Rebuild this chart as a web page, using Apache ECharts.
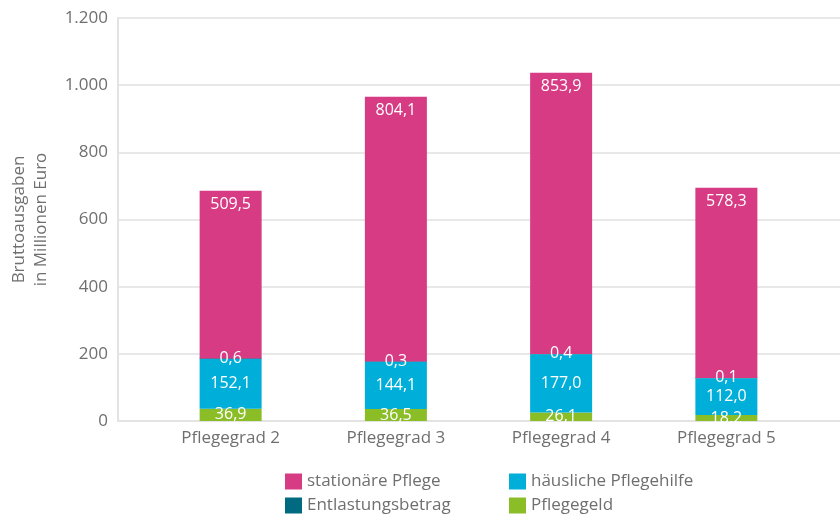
<!DOCTYPE html>
<html>
<head>
<meta charset="utf-8">
<script src="https://cdn.jsdelivr.net/npm/echarts@6/dist/echarts.min.js"></script>
<style>
  html, body { margin: 0; padding: 0; background: #fff; }
  #main { width: 840px; height: 519px; }
</style>
</head>
<body>
<div id="main"></div>
<script>
// Daten aus der Grafik
var categories = ["Pflegegrad 2", "Pflegegrad 3", "Pflegegrad 4", "Pflegegrad 5"];
var pflegegeld = [36.9, 36.5, 26.1, 18.2];
var haeuslichePflegehilfe = [152.1, 144.1, 177.0, 112.0];
var entlastungsbetrag = [0.6, 0.3, 0.4, 0.1];
var stationaerePflege = [509.5, 804.1, 853.9, 578.3];
var yTicks = [0, 200, 400, 600, 800, 1000, 1200];

var font = "Open Sans";
var textColor = "#6f6f6f";

function deNumber(v) {
  var s = String(Math.round(v));
  return s.replace(/\B(?=(\d{3})+(?!\d))/g, ".");
}
function deDecimal(p) {
  return p.value.toFixed(1).replace(".", ",");
}

function barLabel(position, distance) {
  return {
    show: true,
    position: position,
    distance: distance,
    color: "#fff",
    fontFamily: font,
    fontSize: 16,
    formatter: deDecimal
  };
}

// eine Legende pro Eintrag, damit das 2x2-Raster stimmt
function legendItem(name, left, top) {
  return {
    left: left, top: top,
    itemWidth: 17, itemHeight: 16, itemGap: 0,
    icon: "rect",
    textStyle: { color: textColor, fontSize: 17, fontFamily: font, lineHeight: 16 },
    data: [name]
  };
}

var chart = echarts.init(document.getElementById("main"));
var option = {
  animation: false,
  textStyle: { fontFamily: font },
  grid: [
    { left: 118, right: 0, top: 18, bottom: 98 },
    { left: 148, right: 31, top: 18, bottom: 98 }
  ],
  legend: [
    legendItem("stationäre Pflege", 280, 468),
    legendItem("Entlastungsbetrag", 280, 492),
    legendItem("häusliche Pflegehilfe", 504, 468),
    legendItem("Pflegegeld", 504, 492)
  ],
  xAxis: [
    {
      gridIndex: 0, type: "category", data: categories,
      axisLine: { show: true, lineStyle: { color: "#e3e3e3", width: 2 } },
      axisTick: { show: false }, axisLabel: { show: false }
    },
    {
      gridIndex: 1, type: "category", data: categories,
      axisLine: { show: false }, axisTick: { show: false },
      axisLabel: { color: textColor, fontSize: 17, fontFamily: font, margin: 9 }
    }
  ],
  yAxis: [
    {
      gridIndex: 0, type: "value", min: 0, max: 1200, interval: 200,
      name: "Bruttoausgaben\nin Millionen Euro",
      nameLocation: "middle", nameGap: 66,
      nameTextStyle: { color: textColor, fontSize: 17, fontFamily: font, lineHeight: 22 },
      axisLine: { show: true, lineStyle: { color: "#e3e3e3", width: 2 } },
      axisTick: { show: false },
      axisLabel: {
        color: textColor, fontSize: 17, fontFamily: font, margin: 10,
        formatter: function (v) { return yTicks.indexOf(v) >= 0 ? deNumber(v) : ""; }
      },
      splitLine: { lineStyle: { color: "#e8e8e8", width: 2 } }
    },
    {
      // Balkenskala wie in der Vorlage (Balken dort etwas gestaucht)
      gridIndex: 1, type: "value", min: 0, max: 1224,
      show: false, splitLine: { show: false }
    }
  ],
  series: [
    {
      name: "Pflegegeld", type: "bar", stack: "a", xAxisIndex: 1, yAxisIndex: 1,
      barWidth: 62, itemStyle: { color: "#8abd26" },
      label: barLabel("inside", 0), data: pflegegeld
    },
    {
      name: "häusliche Pflegehilfe", type: "bar", stack: "a", xAxisIndex: 1, yAxisIndex: 1,
      barWidth: 62, itemStyle: { color: "#00afd9" },
      label: barLabel("inside", 0), data: haeuslichePflegehilfe
    },
    {
      name: "Entlastungsbetrag", type: "bar", stack: "a", xAxisIndex: 1, yAxisIndex: 1,
      barWidth: 62, barMinHeight: 1, itemStyle: { color: "#006b80" },
      label: barLabel("inside", 0), data: entlastungsbetrag
    },
    {
      name: "stationäre Pflege", type: "bar", stack: "a", xAxisIndex: 1, yAxisIndex: 1,
      barWidth: 62, itemStyle: { color: "#d63b84" },
      label: barLabel("insideTop", 6), data: stationaerePflege
    }
  ]
};
chart.setOption(option);
</script>
</body>
</html>
